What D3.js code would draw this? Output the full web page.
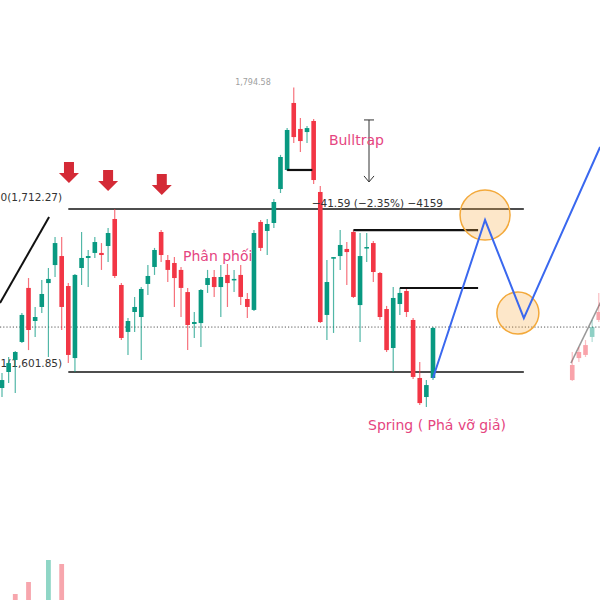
<!DOCTYPE html>
<html>
<head>
<meta charset="utf-8">
<script src="https://cdn.jsdelivr.net/npm/d3@7"></script>
<style>
  html, body { margin: 0; padding: 0; background: #fff; }
  svg { display: block; }
</style>
</head>
<body>
<svg id="chart" width="600" height="600"></svg>
<script>
// ---- Price data (one entry per session) ----
const opens  = [1591.0,1601.85,1610.0,1622.2,1658.8,1636.4,1645.9,1662.1,1674.3,1680.4,1660.1,1611.3,1672.3,1679.1,1682.5,1682.5,1687.2,1705.5,1660.8,1629.0,1642.5,1639.1,1661.5,1673.0,1696.7,1677.7,1675.7,1671.0,1656.0,1634.4,1635.0,1660.8,1666.2,1659.4,1667.6,1664.2,1667.6,1651.3,1643.9,1703.5,1697.4,1702.8,1725.8,1738.7,1784.1,1766.5,1764.4,1771.9,1723.8,1640.5,1678.6,1680.4,1685.2,1696.7,1647.2,1685.9,1689.2,1668.9,1644.5,1618.1,1647.9,1656.7,1637.1,1597.8,1584.9,1597.8];
const highs  = [1601.2,1612.0,1616.1,1641.8,1665.5,1645.9,1664.2,1672.3,1693.3,1693.3,1662.1,1668.2,1696.7,1684.5,1693.3,1689.2,1699.4,1712.27,1662.1,1638.4,1652.7,1659.4,1674.3,1685.9,1698.0,1681.1,1679.7,1673.0,1658.8,1642.5,1658.1,1671.0,1671.0,1674.3,1675.0,1671.0,1674.3,1655.4,1698.0,1704.8,1705.5,1719.0,1748.9,1767.1,1794.58,1773.9,1768.5,1773.2,1727.9,1677.7,1679.7,1698.0,1689.9,1698.0,1696.0,1696.0,1690.6,1669.6,1646.6,1659.4,1658.8,1658.1,1638.4,1608.6,1596.4,1632.3];
const lows   = [1584.9,1594.4,1587.6,1621.5,1616.7,1625.6,1641.8,1612.0,1666.2,1630.3,1608.0,1601.85,1660.8,1659.4,1679.1,1671.0,1676.4,1665.5,1623.5,1613.4,1629.0,1610.0,1654.0,1667.6,1676.4,1662.8,1645.9,1639.1,1616.7,1624.9,1618.8,1655.4,1652.7,1639.1,1645.9,1656.0,1647.2,1638.4,1643.2,1683.8,1681.1,1699.4,1723.1,1738.0,1757.0,1750.9,1757.0,1729.2,1635.0,1623.5,1628.3,1671.0,1660.8,1652.0,1622.2,1676.4,1662.8,1637.1,1615.4,1601.85,1640.5,1639.1,1597.1,1579.5,1578.1,1596.4];
const closes = [1596.4,1607.9,1615.4,1640.5,1630.3,1639.1,1654.7,1664.9,1689.2,1645.9,1613.4,1667.6,1679.1,1680.4,1689.9,1681.1,1696.0,1666.9,1624.9,1636.4,1645.9,1658.1,1666.9,1684.5,1681.1,1671.0,1665.5,1658.8,1633.7,1635.7,1657.4,1665.5,1659.4,1666.2,1662.1,1664.9,1652.7,1645.9,1696.0,1685.9,1702.1,1717.0,1747.5,1765.8,1761.0,1758.3,1767.1,1731.9,1635.7,1662.8,1679.7,1687.9,1683.1,1652.7,1680.4,1686.5,1669.6,1639.1,1616.7,1652.0,1655.4,1642.5,1598.5,1580.8,1593.0,1631.7];

// Faded projection candles on the right
const ghostIdx    = [86, 87, 88, 89, 90];
const ghostOpens  = [1606.6, 1615.4, 1620.1, 1625.6, 1642.5];
const ghostHighs  = [1615.4, 1618.8, 1623.5, 1637.1, 1655.4];
const ghostLows   = [1595.8, 1608.6, 1612.0, 1622.2, 1635.7];
const ghostCloses = [1596.4, 1611.3, 1613.4, 1632.3, 1637.1];

// Volume bars visible at the bottom edge
const volIdx    = [2, 4, 7, 9];
const volValues = [6, 18, 40, 36];
const volUp     = [false, false, true, false];

// Key levels
const fibTop = 1712.27;
const fibBottom = 1601.85;
const midLevel = 1632.3;
const peakPrice = 1794.58;

// Projected path (index, price)
const pathIdx   = [65, 72.85, 78.7, 90.2];
const pathPrice = [1597.8, 1704.8, 1638.4, 1754.3];

// ---- Chart ----
const W = 600, H = 600;
const svg = d3.select("#chart");
const x = d3.scaleLinear().domain([0, 65]).range([2, 433]);
const y = d3.scaleLinear().domain([fibBottom, fibTop]).range([372, 209]);
const yVol = d3.scaleLinear().domain([0, 90]).range([600, 510]);

const UP = "#089981", DOWN = "#f23645";
const PINK = "#e5457f";
const bodyW = 4.6;
const font = "DejaVu Sans, sans-serif";

const candles = opens.map((o, i) => ({ i, o, h: highs[i], l: lows[i], c: closes[i] }));
const ghosts = ghostIdx.map((i, k) => ({ i, o: ghostOpens[k], h: ghostHighs[k], l: ghostLows[k], c: ghostCloses[k] }));

// dotted mid line
svg.append("line")
  .attr("x1", 0).attr("x2", W)
  .attr("y1", y(midLevel)).attr("y2", y(midLevel))
  .attr("stroke", "#555").attr("stroke-width", 1).attr("stroke-dasharray", "1.2,2");

// fib range lines
[fibTop, fibBottom].forEach(v => {
  svg.append("line")
    .attr("x1", x(10)).attr("x2", x(78.7))
    .attr("y1", y(v)).attr("y2", y(v))
    .attr("stroke", "#4d4d4d").attr("stroke-width", 2);
});

// fib labels
svg.append("text").attr("x", 0.5).attr("y", y(fibTop) - 8)
  .attr("font-family", font)
  .attr("font-size", 10.5).attr("fill", "#333").text("0(1,712.27)");
svg.append("text").attr("x", 0.5).attr("y", y(fibBottom) - 5)
  .attr("font-family", font)
  .attr("font-size", 10.5).attr("fill", "#333").text("1(1,601.85)");

// trend line on the left
svg.append("line")
  .attr("x1", x(-0.3)).attr("y1", y(1648.6))
  .attr("x2", x(7.1)).attr("y2", y(1706.85))
  .attr("stroke", "#111").attr("stroke-width", 2);

// ghost trend line
svg.append("line")
  .attr("x1", x(85.8)).attr("y1", y(1607.9))
  .attr("x2", x(90.3)).attr("y2", y(1649.3))
  .attr("stroke", "#999").attr("stroke-width", 1.5);

function drawCandles(g, data, alpha) {
  const sel = g.selectAll("g.c").data(data).join("g").attr("class", "c")
    .attr("opacity", alpha);
  sel.append("line")
    .attr("x1", d => x(d.i)).attr("x2", d => x(d.i))
    .attr("y1", d => y(d.h)).attr("y2", d => y(d.l))
    .attr("stroke", d => d.c >= d.o ? UP : DOWN)
    .attr("stroke-opacity", 0.7)
    .attr("stroke-width", 1.2);
  sel.append("rect")
    .attr("x", d => x(d.i) - bodyW / 2)
    .attr("width", bodyW)
    .attr("y", d => y(Math.max(d.o, d.c)))
    .attr("height", d => Math.max(1.5, Math.abs(y(d.o) - y(d.c))))
    .attr("fill", d => d.c >= d.o ? UP : DOWN);
}
drawCandles(svg.append("g"), candles, 1);
drawCandles(svg.append("g"), ghosts, 0.45);

// volume
svg.append("g").selectAll("rect").data(volIdx).join("rect")
  .attr("x", d => x(d) - 2.4).attr("width", 4.8)
  .attr("y", (d, k) => yVol(volValues[k]))
  .attr("height", (d, k) => yVol(0) - yVol(volValues[k]))
  .attr("fill", (d, k) => volUp[k] ? "#8fd6c6" : "#f7a6ad");

// level lines
const lvlLines = [
  { a: 53, b: 71.8, p: 1698.0 },
  { a: 60, b: 71.8, p: 1658.75 },
  { a: 43, b: 46.8, p: 1738.7 }
];
lvlLines.forEach(l => {
  svg.append("line")
    .attr("x1", x(l.a)).attr("x2", x(l.b))
    .attr("y1", y(l.p)).attr("y2", y(l.p))
    .attr("stroke", "#111").attr("stroke-width", 2.2);
});

// measurement arrow
const mx = x(55.35), mTop = y(1772.6), mBot = y(1730.6);
const mg = svg.append("g").attr("stroke", "#333").attr("stroke-width", 1).attr("fill", "none");
mg.append("line").attr("x1", mx).attr("x2", mx).attr("y1", mTop).attr("y2", mBot);
mg.append("line").attr("x1", mx - 5).attr("x2", mx + 5).attr("y1", mTop).attr("y2", mTop);
mg.append("path").attr("d", `M${mx - 5},${mBot - 6}L${mx},${mBot}L${mx + 5},${mBot - 6}`);

svg.append("text").attr("x", x(46.7)).attr("y", y(fibTop) - 2)
  .attr("font-family", font).attr("font-size", 10.5)
  .attr("fill", "#333").text("\u221241.59 (\u22122.35%) \u22124159");

// peak label
svg.append("text").attr("x", x(44) - 23).attr("y", y(peakPrice) - 2)
  .attr("text-anchor", "end").attr("font-family", font)
  .attr("font-size", 8).attr("fill", "#a0a0a0").text("1,794.58");

// circles
const circles = [
  { i: 72.85, p: 1708.2, r: 25 },
  { i: 77.8, p: 1641.8, r: 21 }
];
svg.append("g").selectAll("circle").data(circles).join("circle")
  .attr("cx", d => x(d.i)).attr("cy", d => y(d.p)).attr("r", d => d.r)
  .attr("fill", "rgba(247,170,60,0.28)").attr("stroke", "#f3a93b").attr("stroke-width", 1.5);

// projected path
svg.append("path")
  .datum(pathIdx.map((v, k) => [v, pathPrice[k]]))
  .attr("d", d3.line().x(d => x(d[0])).y(d => y(d[1])))
  .attr("fill", "none").attr("stroke", "#3a68ef").attr("stroke-width", 2);

// red down arrows
const arrowIdx = [10.1, 16, 24.1];
const arrowTip = [1729.9, 1724.5, 1721.8];
svg.append("g").selectAll("path").data(arrowIdx).join("path")
  .attr("transform", (d, k) => `translate(${x(d)},${y(arrowTip[k])})`)
  .attr("d", "M0,0L-10,-10L-5,-10L-5,-21L5,-21L5,-10L10,-10Z")
  .attr("fill", "#d42a36");

// annotations
svg.append("text").attr("x", x(49.3)).attr("y", y(1755.5))
  .attr("font-family", font).attr("font-size", 14).attr("fill", PINK).text("Bulltrap");
svg.append("text").attr("x", x(27.3)).attr("y", y(1676.8))
  .attr("font-family", font).attr("font-size", 14).attr("fill", PINK).text("Phân phối");
svg.append("text").attr("x", x(55.2)).attr("y", y(1562.6))
  .attr("font-family", font).attr("font-size", 14).attr("fill", PINK).text("Spring ( Phá vỡ giả)");
</script>
</body>
</html>
